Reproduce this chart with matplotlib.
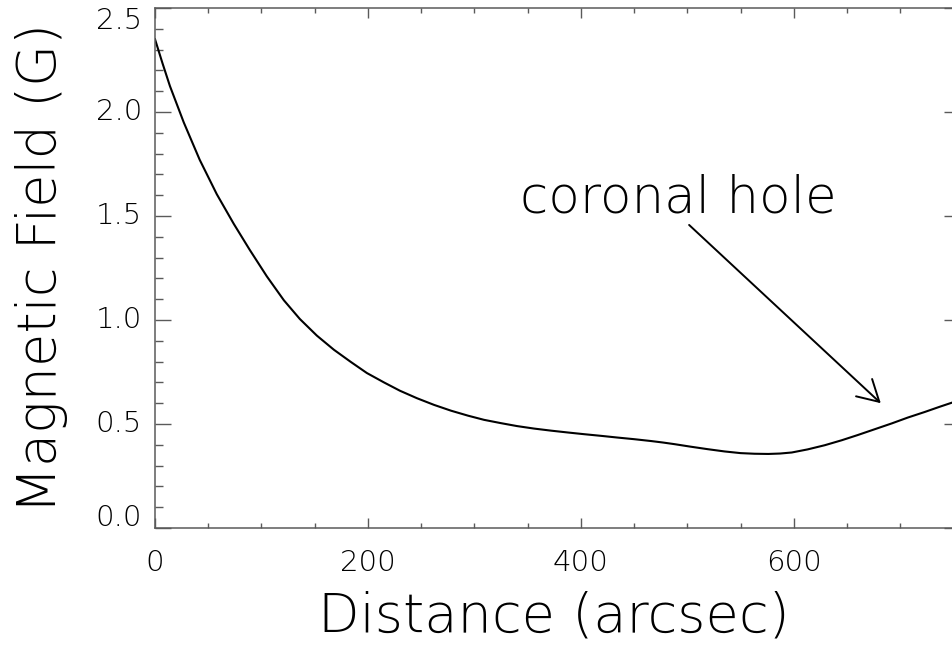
import numpy as np
import matplotlib
matplotlib.use("Agg")
import matplotlib.pyplot as plt
import matplotlib.transforms as mtransforms
from matplotlib.ticker import FixedLocator, MultipleLocator

# values
distance = [0, 7, 14, 27, 42, 58, 74, 89, 105, 121, 136, 152, 168, 184, 199,
            215, 230, 246, 262, 278, 294, 309, 325, 340, 356, 372, 388, 403,
            419, 434, 450, 466, 477, 488, 503, 519, 535, 550, 563, 576, 587,
            598, 613, 629, 645, 660, 676, 692, 707, 723, 737, 751, 756]
field = [2.350, 2.235, 2.125, 1.950, 1.770, 1.605, 1.462, 1.337, 1.210, 1.095,
         1.005, 0.925, 0.857, 0.798, 0.745, 0.700, 0.660, 0.624, 0.592, 0.564,
         0.540, 0.520, 0.504, 0.490, 0.478, 0.468, 0.459, 0.451, 0.443, 0.435,
         0.427, 0.418, 0.411, 0.403, 0.391, 0.379, 0.368, 0.360, 0.357, 0.356,
         0.358, 0.363, 0.378, 0.398, 0.422, 0.447, 0.475, 0.503, 0.531, 0.558,
         0.583, 0.607, 0.615]

x_ticks = [0, 200, 400, 600]
x_tick_labels = ["0", "200", "400", "600"]
y_ticks = [0.0, 0.5, 1.0, 1.5, 2.0, 2.5]
y_tick_labels = ["0.0", "0.5", "1.0", "1.5", "2.0", "2.5"]

note_text = "coronal hole"
note_pos = (343.0, 1.519)
arrow_tail = (501.6, 1.457)
arrow_tip = (681.6, 0.60)

FONT = "DejaVu Sans"
WEIGHT = "ultralight"
AXIS_GREY = "#5a5a5a"

plt.rcParams["font.family"] = [FONT]

fig = plt.figure(figsize=(9.53, 6.47), dpi=100)
# right spine sits just past the picture edge, like the cropped original
ax = fig.add_axes([155 / 953, 119 / 647, 805 / 953, 520 / 647])

ax.plot(distance, field, color="black", lw=1.5)
ax.set_xlim(0, 756)
ax.set_ylim(0, 2.5)

for sp in ax.spines.values():
    sp.set_color(AXIS_GREY)
    sp.set_linewidth(1.1)

# -----------------------------
# ticks (IDL style, inward)
# -----------------------------
ax.xaxis.set_major_locator(FixedLocator(x_ticks))
ax.xaxis.set_minor_locator(MultipleLocator(50))
ax.yaxis.set_major_locator(FixedLocator(y_ticks))
ax.yaxis.set_minor_locator(MultipleLocator(0.1))
ax.set_xticklabels(x_tick_labels, fontweight=WEIGHT)

ax.tick_params(axis="x", which="major", direction="in", length=7.2, width=1.0,
               color=AXIS_GREY, top=True, labelsize=21, pad=15)
ax.tick_params(axis="x", which="minor", direction="in", length=3.6, width=1.0,
               color=AXIS_GREY, top=True)
ax.tick_params(axis="y", which="major", direction="in", length=11.5, width=1.0,
               color=AXIS_GREY, right=True, labelleft=False)
ax.tick_params(axis="y", which="minor", direction="in", length=5.8, width=1.0,
               color=AXIS_GREY, right=True)

# y labels drawn by hand so the end ones can be nudged inward
for i, (v, lab) in enumerate(zip(y_ticks, y_tick_labels)):
    dy = 0
    if i == 0:
        dy = 10
    elif i == len(y_ticks) - 1:
        dy = -13
    tr = mtransforms.offset_copy(ax.get_yaxis_transform(), fig=fig,
                                 x=-13, y=dy, units="dots")
    ax.text(0, v, lab, transform=tr, ha="right", va="center",
            fontsize=21, fontweight=WEIGHT)

# -----------------------------
# axis titles
# -----------------------------
ax.set_xlabel("Distance (arcsec)", fontsize=39, fontweight=WEIGHT,
              va="baseline", ha="center")
ax.xaxis.set_label_coords((554 - 155) / 805, -0.2)
ax.set_ylabel("Magnetic Field (G)", fontsize=39, fontweight=WEIGHT,
              va="center", ha="center")
ax.yaxis.set_label_coords((41 - 155) / 805, 0.5)

# -----------------------------
# annotation
# -----------------------------
ax.text(note_pos[0], note_pos[1], note_text, fontsize=37, fontweight=WEIGHT,
        ha="left", va="baseline")
ax.annotate("", xy=arrow_tip, xytext=arrow_tail,
            arrowprops=dict(arrowstyle="->,head_length=15,head_width=8.5",
                            mutation_scale=1, lw=1.4, color="black",
                            shrinkA=0, shrinkB=0))

fig.savefig("out.png", dpi=100)
